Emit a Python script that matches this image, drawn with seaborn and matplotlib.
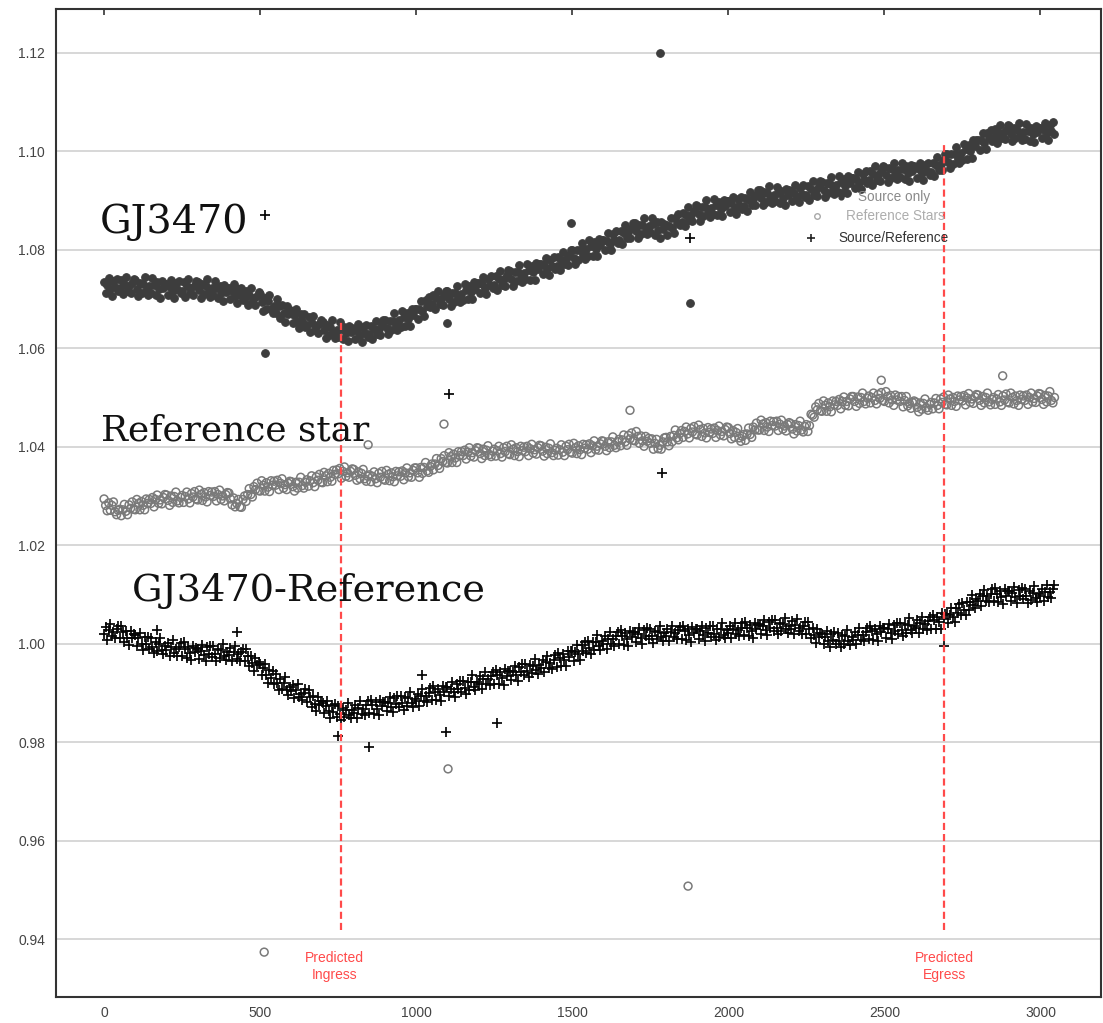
import numpy as np
import pandas as pd
import matplotlib
matplotlib.use("Agg")
import matplotlib.pyplot as plt
from matplotlib.ticker import FormatStrFormatter, MultipleLocator
import seaborn as sns

# Frame index of each exposure
frame = np.arange(0, 3050, 5)

# Relative flux minus one, in units of 1e-4, one value per frame
gj3470_e4 = [
    734, 712, 729, 743, 720, 707, 737, 724, 741, 716,
    722, 739, 710, 731, 745, 717, 727, 713, 732, 740,
    738, 721, 706, 733, 713, 730, 744, 717, 709, 726,
    712, 742, 729, 708, 734, 720, 703, 736, 722, 731,
    730, 708, 725, 739, 716, 703, 733, 720, 737, 712,
    717, 734, 705, 726, 741, 713, 722, 709, 729, 737,
    735, 718, 703, 730, 710, 727, 741, 714, 705, 722,
    708, 737, 723, 703, 727, 713, 696, 728, 714, 723,
    722, 700, 716, 730, 706, 692, 721, 708, 722, 697,
    701, 717, 688, 708, 723, 694, 702, 688, 706, 714,
    711, 693, 676, 702, 680, 696, 709, 680, 671, 686,
    671, 699, 685, 662, 687, 671, 654, 685, 670, 678,
    676, 652, 668, 680, 656, 641, 669, 655, 670, 644,
    647, 663, 633, 652, 666, 637, 646, 631, 649, 657,
    654, 637, 621, 648, 627, 644, 657, 630, 621, 638,
    623, 653, 640, 619, 644, 630, 614, 646, 632, 641,
    640, 618, 635, 649, 626, 613, 643, 630, 647, 623,
    628, 646, 618, 640, 656, 629, 640, 627, 648, 658,
    657, 641, 628, 656, 637, 656, 671, 645, 638, 657,
    644, 676, 664, 645, 672, 660, 646, 680, 668, 679,
    680, 660, 680, 696, 675, 665, 697, 686, 705, 683,
    690, 708, 679, 701, 717, 690, 700, 687, 708, 717,
    716, 700, 686, 713, 694, 712, 727, 701, 693, 711,
    698, 730, 718, 699, 726, 714, 699, 734, 721, 733,
    733, 712, 730, 744, 722, 710, 741, 729, 746, 722,
    728, 746, 718, 740, 756, 729, 740, 727, 748, 758,
    757, 741, 727, 755, 736, 754, 768, 742, 735, 753,
    740, 771, 759, 739, 766, 754, 739, 773, 760, 771,
    771, 750, 768, 783, 761, 749, 779, 767, 785, 761,
    767, 785, 758, 780, 796, 770, 781, 768, 789, 800,
    799, 784, 770, 799, 780, 799, 814, 789, 782, 801,
    788, 819, 807, 788, 815, 802, 787, 821, 809, 820,
    820, 799, 818, 833, 811, 800, 831, 819, 837, 814,
    820, 839, 811, 834, 850, 824, 835, 823, 844, 855,
    854, 838, 824, 851, 832, 850, 865, 839, 831, 849,
    836, 865, 852, 830, 856, 841, 824, 857, 842, 852,
    850, 830, 849, 865, 844, 833, 865, 854, 873, 850,
    857, 875, 848, 870, 886, 860, 871, 858, 879, 890,
    889, 873, 859, 887, 868, 886, 900, 874, 867, 885,
    872, 903, 890, 870, 896, 883, 868, 901, 888, 898,
    898, 876, 894, 908, 885, 873, 903, 890, 907, 883,
    888, 906, 879, 901, 918, 891, 902, 890, 911, 922,
    921, 904, 890, 917, 897, 915, 929, 902, 894, 912,
    898, 928, 915, 894, 920, 906, 891, 924, 911, 921,
    920, 899, 916, 931, 908, 896, 926, 914, 931, 907,
    912, 930, 901, 923, 939, 912, 922, 909, 930, 939,
    938, 922, 907, 935, 915, 933, 948, 921, 914, 931,
    918, 949, 937, 916, 943, 930, 915, 949, 935, 946,
    946, 925, 943, 958, 936, 924, 954, 942, 960, 936,
    942, 960, 931, 953, 969, 942, 952, 939, 960, 969,
    968, 952, 937, 965, 945, 963, 977, 951, 943, 961,
    947, 977, 964, 943, 969, 955, 939, 972, 959, 969,
    968, 946, 963, 977, 955, 942, 972, 959, 977, 952,
    957, 976, 949, 971, 988, 962, 974, 962, 983, 994,
    994, 979, 965, 994, 975, 994, 1009, 984, 977, 996,
    983, 1015, 1004, 985, 1013, 1001, 987, 1022, 1010, 1022,
    1023, 1003, 1022, 1037, 1016, 1005, 1037, 1026, 1044, 1021,
    1028, 1046, 1017, 1039, 1054, 1027, 1037, 1024, 1044, 1054,
    1052, 1035, 1020, 1047, 1027, 1044, 1058, 1031, 1023, 1039,
    1025, 1055, 1042, 1021, 1048, 1034, 1018, 1051, 1038, 1048,
    1048, 1026, 1044, 1058, 1036, 1023, 1054, 1041, 1059, 1034,
]

reference_e4 = [
    294, 281, 270, 286, 271, 281, 288, 268, 262, 271,
    273, 260, 272, 283, 269, 262, 282, 275, 288, 273,
    272, 293, 285, 272, 289, 281, 272, 294, 285, 293,
    285, 297, 278, 293, 302, 285, 292, 284, 297, 303,
    302, 291, 281, 300, 287, 299, 308, 290, 286, 297,
    301, 287, 299, 308, 294, 286, 305, 298, 309, 294,
    292, 312, 303, 291, 307, 298, 288, 309, 301, 308,
    299, 309, 290, 303, 312, 293, 300, 290, 303, 307,
    306, 294, 282, 296, 278, 285, 293, 278, 277, 293,
    300, 289, 303, 315, 303, 298, 319, 313, 326, 311,
    310, 331, 322, 310, 327, 318, 309, 331, 322, 330,
    322, 332, 313, 326, 335, 316, 323, 313, 326, 330,
    329, 319, 310, 328, 316, 328, 338, 321, 316, 328,
    333, 320, 331, 341, 327, 319, 339, 332, 344, 328,
    327, 348, 341, 329, 346, 338, 330, 352, 344, 353,
    345, 356, 336, 350, 359, 340, 347, 338, 350, 355,
    354, 342, 332, 349, 335, 346, 354, 335, 330, 340,
    343, 329, 340, 349, 335, 327, 346, 338, 350, 334,
    332, 352, 344, 331, 347, 339, 329, 350, 341, 349,
    340, 351, 333, 347, 357, 339, 347, 338, 352, 357,
    357, 347, 338, 358, 346, 358, 368, 351, 348, 360,
    365, 353, 365, 376, 362, 356, 376, 370, 382, 368,
    367, 388, 380, 368, 385, 377, 368, 390, 382, 390,
    382, 393, 375, 389, 398, 381, 388, 379, 392, 398,
    397, 386, 376, 395, 382, 393, 402, 384, 380, 391,
    395, 381, 392, 401, 386, 379, 398, 390, 401, 386,
    384, 404, 395, 382, 398, 390, 380, 401, 392, 399,
    390, 401, 382, 396, 405, 387, 394, 385, 398, 403,
    402, 391, 381, 399, 386, 397, 406, 388, 382, 393,
    397, 383, 394, 404, 389, 382, 401, 394, 405, 389,
    387, 407, 398, 386, 402, 394, 384, 405, 397, 404,
    395, 406, 388, 402, 412, 394, 401, 393, 406, 412,
    411, 401, 392, 410, 398, 410, 420, 403, 398, 410,
    415, 402, 414, 424, 410, 403, 423, 416, 428, 413,
    412, 431, 421, 407, 422, 412, 401, 421, 411, 417,
    407, 416, 395, 407, 415, 396, 403, 395, 410, 418,
    419, 410, 402, 421, 410, 423, 434, 418, 414, 427,
    433, 419, 431, 440, 426, 418, 437, 430, 441, 426,
    424, 444, 435, 421, 437, 428, 418, 439, 429, 436,
    427, 438, 419, 433, 442, 424, 431, 422, 435, 440,
    439, 427, 416, 433, 419, 429, 437, 418, 411, 421,
    425, 413, 426, 438, 425, 419, 440, 434, 448, 434,
    434, 454, 446, 433, 449, 440, 431, 452, 443, 451,
    442, 452, 433, 446, 454, 436, 442, 432, 445, 449,
    447, 436, 426, 445, 432, 443, 452, 434, 430, 441,
    445, 431, 443, 466, 464, 460, 481, 475, 488, 473,
    472, 493, 484, 472, 489, 481, 471, 493, 485, 492,
    484, 496, 477, 492, 501, 484, 492, 483, 497, 502,
    502, 492, 482, 501, 488, 500, 509, 492, 487, 499,
    503, 489, 500, 509, 494, 487, 506, 498, 510, 494,
    492, 512, 502, 489, 504, 495, 484, 505, 495, 502,
    492, 502, 481, 494, 502, 483, 488, 478, 490, 493,
    491, 480, 471, 489, 476, 488, 497, 479, 474, 486,
    490, 477, 489, 498, 484, 477, 497, 490, 501, 486,
    485, 505, 497, 484, 500, 492, 482, 503, 495, 502,
    493, 504, 485, 499, 508, 490, 497, 488, 501, 506,
    505, 494, 484, 502, 489, 500, 509, 491, 485, 496,
    500, 486, 497, 506, 491, 484, 503, 495, 507, 491,
    489, 509, 500, 487, 503, 494, 484, 505, 496, 503,
    494, 505, 486, 500, 509, 491, 498, 490, 503, 508,
    507, 496, 486, 504, 491, 503, 512, 494, 489, 500,
]

ratio_e4 = [
    19, 34, 8, 27, 40, 15, 24, 11, 29, 36,
    11, 37, 24, 4, 26, 12, -3, 26, 11, 19,
    17, -4, 11, 21, 0, -13, 13, 0, 14, -10,
    11, -6, -19, 4, -14, 0, 12, -12, -21, -5,
    -12, 2, -24, -6, 7, -19, -10, -24, -6, 1,
    -24, 3, -10, -28, -6, -19, -33, -4, -17, -9,
    -10, -30, -14, -2, -22, -34, -7, -20, -4, -27,
    -5, -21, -34, -10, -28, -13, 0, -24, -33, -17,
    -23, -9, -35, -17, -4, -30, -21, -35, -17, -10,
    -35, -10, -25, -45, -25, -40, -56, -29, -44, -38,
    -41, -64, -50, -41, -64, -79, -54, -69, -56, -81,
    -62, -80, -94, -72, -92, -79, -67, -93, -103, -88,
    -96, -83, -110, -93, -81, -108, -101, -115, -99, -92,
    -119, -94, -108, -128, -107, -122, -137, -109, -124, -117,
    -120, -141, -127, -116, -137, -151, -125, -138, -123, -148,
    -127, -143, -155, -131, -149, -134, -120, -144, -151, -135,
    -141, -125, -151, -131, -117, -142, -132, -144, -125, -117,
    -141, -114, -125, -143, -119, -132, -145, -115, -127, -118,
    -118, -137, -121, -108, -128, -139, -111, -123, -106, -129,
    -106, -121, -134, -109, -127, -111, -97, -121, -128, -112,
    -117, -101, -126, -106, -92, -116, -106, -118, -99, -90,
    -114, -86, -97, -115, -91, -103, -116, -85, -98, -88,
    -88, -107, -91, -78, -97, -109, -81, -92, -75, -98,
    -75, -90, -102, -77, -94, -78, -64, -87, -94, -77,
    -82, -66, -91, -72, -58, -82, -72, -84, -66, -57,
    -81, -53, -64, -82, -58, -70, -83, -52, -65, -55,
    -55, -74, -57, -45, -64, -75, -47, -58, -42, -64,
    -41, -56, -68, -43, -60, -45, -31, -54, -61, -44,
    -49, -33, -58, -38, -24, -49, -39, -51, -32, -23,
    -47, -19, -29, -46, -21, -33, -46, -14, -26, -15,
    -15, -34, -16, -3, -21, -32, -3, -14, 4, -18,
    6, -9, -21, 4, -13, 3, 18, -5, -12, 5,
    0, 16, -10, 10, 23, -1, 9, -4, 15, 23,
    -1, 27, 15, -2, 21, 9, -4, 26, 14, 23,
    23, 3, 19, 32, 12, 0, 27, 15, 32, 9,
    31, 15, 2, 26, 9, 24, 37, 13, 6, 22,
    16, 31, 5, 24, 37, 13, 22, 9, 27, 35,
    10, 37, 25, 7, 30, 18, 4, 34, 21, 30,
    29, 9, 25, 37, 17, 5, 33, 21, 37, 14,
    36, 20, 7, 31, 14, 29, 42, 18, 11, 27,
    21, 36, 11, 30, 43, 19, 28, 15, 33, 42,
    17, 44, 33, 15, 39, 26, 12, 43, 30, 40,
    39, 19, 36, 48, 28, 17, 44, 32, 48, 26,
    48, 32, 19, 43, 25, 40, 53, 29, 21, 37,
    31, 46, 19, 38, 50, 25, 33, 20, 37, 45,
    19, 44, 30, 11, 32, 17, 1, 29, 14, 22,
    19, -1, 14, 26, 5, -7, 20, 7, 23, -1,
    21, 5, -7, 17, 0, 15, 28, 5, -3, 14,
    8, 24, -1, 18, 32, 8, 18, 6, 24, 33,
    9, 37, 25, 8, 31, 19, 5, 36, 23, 33,
    32, 12, 29, 41, 21, 10, 38, 26, 43, 20,
    43, 28, 15, 40, 22, 38, 52, 28, 21, 37,
    32, 48, 22, 42, 55, 31, 41, 28, 47, 55,
    31, 59, 48, 31, 55, 44, 31, 62, 50, 60,
    60, 42, 59, 73, 55, 45, 73, 63, 81, 59,
    83, 69, 58, 84, 68, 85, 100, 78, 72, 90,
    86, 102, 77, 96, 110, 86, 96, 84, 102, 111,
    87, 114, 102, 84, 108, 95, 81, 111, 98, 108,
    107, 87, 103, 115, 95, 83, 109, 97, 113, 90,
    112, 96, 83, 107, 89, 104, 117, 93, 85, 102,
    96, 112, 86, 106, 119, 95, 105, 92, 111, 119,
]

# Isolated points away from the main bands (frame, relative flux)
gj3470_out_x = [516, 1099, 1496, 1781, 1878]
gj3470_out_y = [1.0590, 1.0652, 1.0855, 1.1200, 1.0691]
reference_out_x = [513, 846, 1089, 1102, 1685, 1871, 2490, 2879]
reference_out_y = [0.9374, 1.0404, 1.0446, 0.9746, 1.0474, 0.9508, 1.0535, 1.0544]
ratio_out_x = [170, 426, 516, 750, 849, 1020, 1096, 1105, 1259, 1788, 1878, 2690]
ratio_out_y = [1.0027, 1.0024, 1.0870, 0.9812, 0.9790, 0.9937, 0.9820, 1.0507,
               0.9839, 1.0346, 1.0823, 0.9995]

# Predicted transit contacts (frame)
ingress_frame = 759
egress_frame = 2691

series_names = ["Source only", "Reference Stars", "Source/Reference"]


def build(values_e4, out_x, out_y):
    flux = 1.0 + np.asarray(values_e4) * 1e-4
    return pd.DataFrame({
        "frame": np.concatenate([frame, out_x]),
        "flux": np.concatenate([flux, out_y]),
    })


df_src = build(gj3470_e4, gj3470_out_x, gj3470_out_y)
df_ref = build(reference_e4, reference_out_x, reference_out_y)
df_rat = build(ratio_e4, ratio_out_x, ratio_out_y)

sns.set_style("white")
plt.rcParams["font.family"] = ["Liberation Sans", "DejaVu Sans"]

fig = plt.figure(figsize=(11.03, 10.23), dpi=100)
ax = fig.add_axes([56 / 1103, 26.3 / 1023, 1045 / 1103, 987.4 / 1023])

src_col = "#3d3d3d"
ref_col = "#7a7a7a"
rat_col = "#050505"

sns.scatterplot(data=df_src, x="frame", y="flux", ax=ax, marker="o", s=30,
                color=src_col, edgecolor=src_col, linewidth=0.8, legend=False,
                zorder=3)
sns.scatterplot(data=df_ref, x="frame", y="flux", ax=ax, marker="o", s=32,
                facecolor="none", edgecolor=ref_col, linewidth=1.1, legend=False,
                zorder=3)
sns.scatterplot(data=df_rat, x="frame", y="flux", ax=ax, marker="+", s=58,
                color=rat_col, linewidth=1.25, legend=False, zorder=3)

# Predicted ingress / egress markers
red = "#ff4a4a"
ax.plot([ingress_frame, ingress_frame], [0.9418, 1.0657], color=red, lw=1.6,
        ls=(0, (3.2, 1.8)), zorder=4)
ax.plot([egress_frame, egress_frame], [0.9418, 1.1017], color=red, lw=1.6,
        ls=(0, (3.2, 1.8)), zorder=4)
ax.text(ingress_frame - 20, 0.9345, "Predicted\nIngress", color=red, fontsize=10,
        ha="center", va="center", linespacing=1.25)
ax.text(egress_frame, 0.9345, "Predicted\nEgress", color=red, fontsize=10,
        ha="center", va="center", linespacing=1.25)

# Curve labels
serif = ["DejaVu Serif"]
ax.text(-13, 1.0833, "GJ3470", family=serif, fontsize=28.5, color="#111111",
        ha="left", va="baseline", zorder=6)
ax.text(-11, 1.0412, "Reference star", family=serif, fontsize=25.8,
        color="#111111", ha="left", va="baseline", zorder=6)
ax.text(90, 1.0087, "GJ3470-Reference", family=serif, fontsize=27.5,
        color="#111111", ha="left", va="baseline", zorder=6)

# Key for the three series
key_x = 2532
ax.plot([2361], [1.0907], marker="o", ms=3.5, color=src_col, ls="none", zorder=5)
ax.text(key_x, 1.0907, series_names[0], color="#8a8a8a", fontsize=9.8,
        ha="center", va="center", zorder=5)
ax.plot([2285], [1.0868], marker="o", ms=4, mfc="none", mec="#a8a8a8", mew=1,
        ls="none", zorder=5)
ax.text(key_x + 4, 1.0868, series_names[1], color="#adadad", fontsize=9.8,
        ha="center", va="center", zorder=5)
ax.plot([2265], [1.0824], marker="+", ms=6, color="#222222", mew=1.2,
        ls="none", zorder=5)
ax.text(key_x - 2, 1.0824, series_names[2], color="#333333", fontsize=9.8,
        ha="center", va="center", zorder=5)

# Axes, ticks and grid
ax.set_xlim(-154, 3194)
ax.set_ylim(0.92835, 1.12881)
ax.xaxis.set_major_locator(MultipleLocator(500))
ax.yaxis.set_major_locator(MultipleLocator(0.02))
ax.yaxis.set_major_formatter(FormatStrFormatter("%.2f"))
ax.yaxis.grid(True, color="#d4d4d4", lw=1.3)
ax.xaxis.grid(False)
ax.set_axisbelow(True)
ax.set_xlabel("")
ax.set_ylabel("")
ax.tick_params(axis="x", direction="in", length=4, width=1.2, top=True,
               colors="#333333", labelcolor="#444444", labelsize=10, pad=7)
ax.tick_params(axis="y", direction="out", length=3, width=1, colors="#333333",
               labelcolor="#444444", labelsize=10, pad=5)
for side in ["left", "bottom", "top", "right"]:
    ax.spines[side].set_visible(True)
    ax.spines[side].set_color("#333333")
    ax.spines[side].set_linewidth(1.5)

fig.savefig("out.png", dpi=100, facecolor="white")
